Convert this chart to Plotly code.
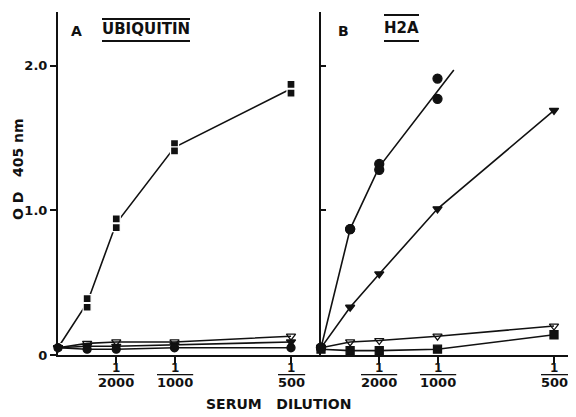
import plotly.graph_objects as go

# ---------------- data ----------------
serum_conc = [0, 1/4000, 1/2000, 1/1000, 1/500]          # reciprocal serum dilution
tick_vals = [1/2000, 1/1000, 1/500]
tick_denoms = ["2000", "1000", "500"]

# Panel A  (UBIQUITIN)
a_sq_rep1 = [0.05, 0.39, 0.94, 1.46, 1.87]
a_sq_rep2 = [0.05, 0.33, 0.88, 1.41, 1.81]
a_tri_open = [0.05, 0.08, 0.09, 0.09, 0.13]
a_tri_fill = [0.05, 0.06, 0.06, 0.07, 0.09]
a_circ = [0.05, 0.04, 0.04, 0.05, 0.05]

# Panel B  (H2A)
b_circ_rep1 = [0.05, 0.87, 1.32, 1.91]
b_circ_rep2 = [0.05, 0.87, 1.28, 1.77]
b_circ_x = serum_conc[:4]
b_fit_x = [0, 1/4000, 1/2000, 0.00114]
b_fit_y = [0.05, 0.87, 1.30, 1.97]
b_tri_fill = [0.05, 0.33, 0.56, 1.01, 1.69]
b_tri_open = [0.05, 0.09, 0.10, 0.13, 0.20]
b_sq = [0.04, 0.03, 0.03, 0.04, 0.14]

# ---------------- figure ----------------
BLACK = "#111111"
FONT = "DejaVu Sans"
fig = go.Figure()

def add(x, y, xa, ya, mode, symbol=None, size=8, width=1.6, name="", mline="#111111"):
    fig.add_trace(go.Scatter(
        x=x, y=y, xaxis=xa, yaxis=ya, mode=mode, name=name,
        line=dict(color=BLACK, width=width),
        marker=dict(symbol=symbol or "circle", size=size, color=BLACK,
                    line=dict(color=mline, width=1.3)),
        cliponaxis=False, showlegend=False))

a_sq_mean = [(p + q) / 2 for p, q in zip(a_sq_rep1, a_sq_rep2)]
add(serum_conc, a_sq_mean, "x", "y", "lines")
add(serum_conc, a_sq_rep1, "x", "y", "markers", "square", 8, mline="white")
add(serum_conc, a_sq_rep2, "x", "y", "markers", "square", 8, mline="white")
add(serum_conc, a_tri_open, "x", "y", "lines+markers", "triangle-down-open", 8)
add(serum_conc, a_tri_fill, "x", "y", "lines+markers", "triangle-down", 8)
add(serum_conc, a_circ, "x", "y", "lines+markers", "circle", 8)

add(b_fit_x, b_fit_y, "x2", "y2", "lines")
add(b_circ_x, b_circ_rep1, "x2", "y2", "markers", "circle", 9)
add(b_circ_x, b_circ_rep2, "x2", "y2", "markers", "circle", 9)
add(serum_conc, b_tri_fill, "x2", "y2", "lines+markers", "triangle-down", 8)
add(serum_conc, b_tri_open, "x2", "y2", "lines+markers", "triangle-down-open", 8)
add(serum_conc, b_sq, "x2", "y2", "lines+markers", "square", 8)

# page has an 8px body margin: design in screen pixels, shift by OFF
OFF = 8
W, H = 576, 417
L, T, PW, PH = 58 - OFF, 12 - OFF, 518, 343
split = 263 / PW
px_per_unit = 116500

xcommon = dict(showline=True, linecolor=BLACK, linewidth=2, showgrid=False, zeroline=False,
               ticks="outside", ticklen=6, tickwidth=2, tickcolor=BLACK,
               tickvals=tick_vals, showticklabels=False, automargin=False)
ycommon = dict(range=[0, 2.37], showline=True, linecolor=BLACK, linewidth=2, automargin=False,
               showgrid=False, zeroline=False, tickwidth=1.5, tickcolor=BLACK)

fig.update_layout(
    width=W, height=H,
    margin=dict(l=L, r=W - L - PW, t=T, b=H - T - PH, autoexpand=False),
    paper_bgcolor="white", plot_bgcolor="white",
    font=dict(family=FONT, color=BLACK),
    xaxis=dict(domain=[0, split], range=[0, 263 / px_per_unit], anchor="y", **xcommon),
    xaxis2=dict(domain=[split, 1], range=[0, 255 / px_per_unit], anchor="y2", **xcommon),
    yaxis=dict(anchor="x", ticks="outside", ticklen=6, tickvals=[0, 1, 2],
               ticktext=["<b>0</b>", "<b>1.0</b>", "<b>2.0</b>"],
               tickfont=dict(family=FONT, size=13, color=BLACK), **ycommon),
    yaxis2=dict(anchor="x2", ticks="inside", ticklen=5, tickvals=[1, 2],
                showticklabels=False, **ycommon),
)

def px(xs):
    return (xs - OFF - L) / PW

def py(ys):
    return (T + PH - (ys - OFF)) / PH

def label(text, xc, yc, size, angle=0):
    fig.add_annotation(text="<b>%s</b>" % text, xref="paper", yref="paper", x=px(xc), y=py(yc),
                       xanchor="center", yanchor="middle", textangle=angle,
                       showarrow=False, font=dict(family=FONT, size=size, color=BLACK))

# fraction tick labels (1 over dilution), placed at the axis tick values
for xa in ("x", "x2"):
    for tv, d in zip(tick_vals, tick_denoms):
        fig.add_annotation(text="<b>1</b>", xref=xa, yref="paper", x=tv, y=py(368),
                           xanchor="center", yanchor="middle", showarrow=False,
                           font=dict(family=FONT, size=12, color=BLACK))
        fig.add_annotation(text="<b><span style='text-decoration:overline'>%s</span></b>" % d,
                           xref=xa, yref="paper", x=tv, y=py(382),
                           xanchor="center", yanchor="middle", showarrow=False,
                           font=dict(family=FONT, size=13, color=BLACK))

label("A", 76, 31, 14)
label("UBIQUITIN", 146, 29, 15)
label("B", 343, 31, 14)
label("H2A", 401, 28, 15)

# over/under bars on the panel titles
for x0, x1, ys in [(102, 190, (19, 41)), (384, 419, (15, 41))]:
    for yy in ys:
        fig.add_shape(type="line", xref="paper", yref="paper", x0=px(x0), x1=px(x1),
                      y0=py(yy), y1=py(yy), line=dict(color=BLACK, width=2))

label("O D   405 nm", 18, 169, 14, angle=-90)
label("SERUM   DILUTION", 278, 404, 14)

fig.write_html("out.html")
